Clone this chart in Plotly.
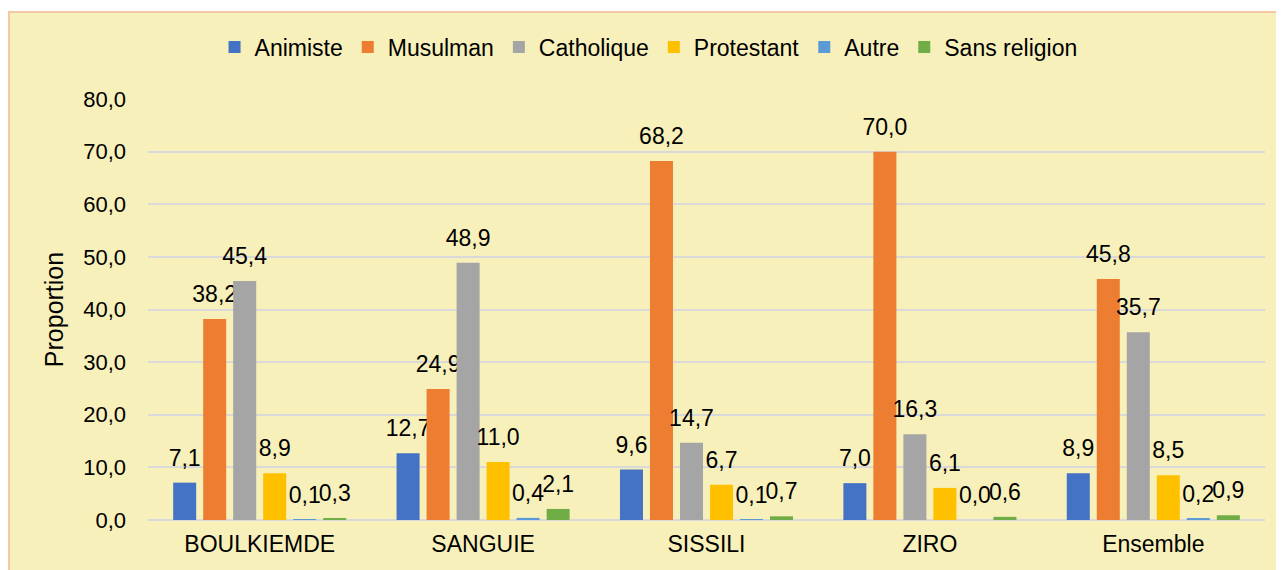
import plotly.graph_objects as go

provinces = ["BOULKIEMDE", "SANGUIE", "SISSILI", "ZIRO", "Ensemble"]
series_names = ["Animiste", "Musulman", "Catholique", "Protestant", "Autre", "Sans religion"]
animiste = [7.1, 12.7, 9.6, 7.0, 8.9]
musulman = [38.2, 24.9, 68.2, 70.0, 45.8]
catholique = [45.4, 48.9, 14.7, 16.3, 35.7]
protestant = [8.9, 11.0, 6.7, 6.1, 8.5]
autre = [0.1, 0.4, 0.1, 0.0, 0.2]
sans_religion = [0.3, 2.1, 0.7, 0.6, 0.9]
y_ticks = [0, 10, 20, 30, 40, 50, 60, 70, 80]

values = [animiste, musulman, catholique, protestant, autre, sans_religion]
colors = ["#4472C4", "#ED7D31", "#A5A5A5", "#FFC000", "#5B9BD5", "#70AD47"]

FONT = "Liberation Sans, Arial, sans-serif"
BG = "#F7F0BA"
LABEL_PAD = 1.7  # gap (in axis units) between a bar top and its value label

fig = go.Figure()
for i, (name, vals, col) in enumerate(zip(series_names, values, colors)):
    fig.add_trace(go.Bar(
        name=name, x=provinces, y=vals, offsetgroup=str(i),
        marker=dict(color=col, line=dict(width=0)),
        hoverinfo="x+y+name",
    ))
    # transparent spacer bar carrying the value label a little above the bar
    fig.add_trace(go.Bar(
        x=provinces, y=[LABEL_PAD] * len(vals), base=vals, offsetgroup=str(i),
        marker=dict(color="rgba(0,0,0,0)", line=dict(width=0)),
        text=[f"{v:.1f}".replace(".", ",") for v in vals],
        textposition="outside", constraintext="none", cliponaxis=False,
        textfont=dict(size=23, color="#000000", family=FONT),
        showlegend=False, hoverinfo="skip",
    ))

fig.update_layout(
    width=1276, height=562,
    margin=dict(l=140, r=19, t=91, b=50, autoexpand=False),
    paper_bgcolor="white",
    plot_bgcolor=BG,
    separators=", ",
    barmode="group",
    bargap=0.194,
    bargroupgap=0.233,
    font=dict(family=FONT, size=22, color="#000000"),
    showlegend=True,
    legend=dict(orientation="h", x=0.502, xanchor="center", xref="container",
                y=1 - 39 / 562, yanchor="middle", yref="container",
                font=dict(size=23, family=FONT), bgcolor="rgba(0,0,0,0)",
                traceorder="normal"),
    shapes=[dict(type="rect", xref="paper", yref="paper",
                 x0=-0.1244, x1=1.05, y0=-0.3, y1=1.2067,
                 fillcolor=BG, line=dict(color="#F4C7A5", width=2), layer="below")],
)
fig.update_yaxes(
    range=[0, 80], tickvals=y_ticks, tickformat=".1f",
    showgrid=True, gridcolor="#D9D9D9", gridwidth=1.5,
    zeroline=True, zerolinecolor="#D9D9D9", zerolinewidth=1.5,
    showline=False, ticks="", ticklabelstandoff=21,
    tickfont=dict(size=22, family=FONT),
    title=dict(text="Proportion", font=dict(size=25, family=FONT), standoff=12),
)
fig.update_xaxes(
    showgrid=False, showline=False, ticks="", ticklabelstandoff=8,
    tickfont=dict(size=23, family=FONT),
)

fig.write_html("out.html")
